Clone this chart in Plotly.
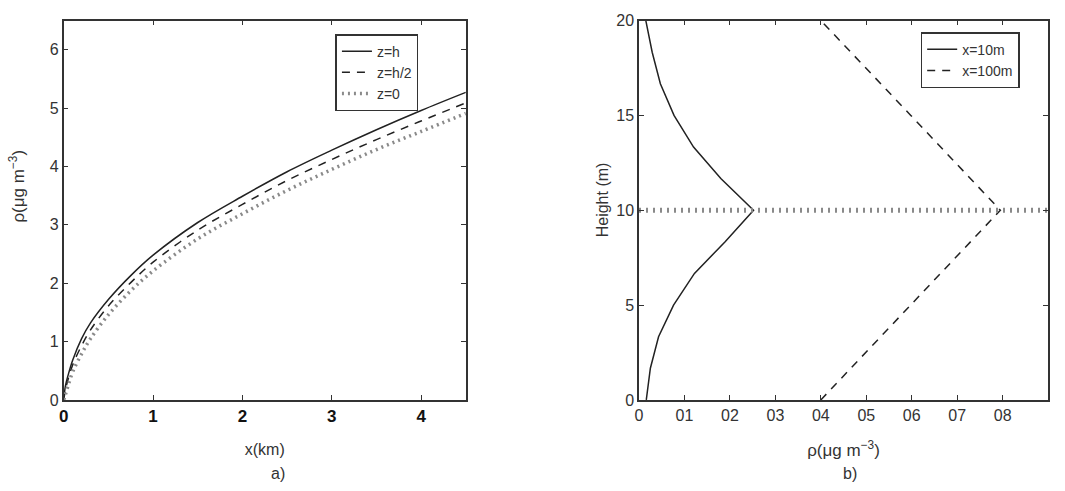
import plotly.graph_objects as go

# ---- panel a) data ----
dist_km = [0, 0.02, 0.05, 0.1, 0.2, 0.3, 0.5, 0.75, 1.0, 1.5, 2.0, 2.5, 3.0, 3.5, 4.0, 4.5]
rho_zh = [0, 0.25, 0.43, 0.68, 1.05, 1.32, 1.72, 2.13, 2.48, 3.04, 3.49, 3.91, 4.28, 4.63, 4.96, 5.27]
rho_zh2 = [0, 0.18, 0.36, 0.60, 0.93, 1.20, 1.61, 2.01, 2.36, 2.91, 3.35, 3.76, 4.12, 4.46, 4.78, 5.09]
rho_z0 = [0, 0.10, 0.25, 0.48, 0.79, 1.05, 1.46, 1.87, 2.21, 2.76, 3.19, 3.59, 3.95, 4.29, 4.60, 4.91]

# ---- panel b) data ----
height_m = [0, 1.67, 3.33, 5, 6.67, 8.33, 10, 11.67, 13.33, 15, 16.67, 18.33, 20]
rho_x10 = [0.016, 0.025, 0.043, 0.076, 0.122, 0.189, 0.252, 0.180, 0.120, 0.077, 0.047, 0.029, 0.015]
height_x100 = [0, 5, 10, 15, 20]
rho_x100 = [0.400, 0.598, 0.795, 0.598, 0.400]
hline_x = [0, 0.9]
hline_y = [10, 10]

xb_tickvals = [0, 0.1, 0.2, 0.3, 0.4, 0.5, 0.6, 0.7, 0.8]
xb_ticktext = ["0", "01", "02", "03", "04", "05", "06", "07", "08"]

FONT = "Liberation Sans, Arial, sans-serif"
TXT = "#333333"
LINE = "#222222"

fig = go.Figure()

fig.add_trace(go.Scatter(x=dist_km, y=rho_zh, mode="lines", name="z=h", line_shape="spline",
                         line=dict(color=LINE, width=1.5), xaxis="x", yaxis="y", legend="legend"))
fig.add_trace(go.Scatter(x=dist_km, y=rho_zh2, mode="lines", name="z=h/2", line_shape="spline",
                         line=dict(color=LINE, width=1.5, dash="8px,7px"), xaxis="x", yaxis="y", legend="legend"))
fig.add_trace(go.Scatter(x=dist_km, y=rho_z0, mode="lines", name="z=0", line_shape="spline",
                         line=dict(color="#8a8a8a", width=3.5, dash="2px,4px"), xaxis="x", yaxis="y", legend="legend"))

fig.add_trace(go.Scatter(x=rho_x10, y=height_m, mode="lines", name="x=10m",
                         line=dict(color=LINE, width=1.5), xaxis="x2", yaxis="y2", legend="legend2"))
fig.add_trace(go.Scatter(x=rho_x100, y=height_x100, mode="lines", name="x=100m",
                         line=dict(color=LINE, width=1.5, dash="8px,7px"), xaxis="x2", yaxis="y2", legend="legend2"))
fig.add_trace(go.Scatter(x=hline_x, y=hline_y, mode="lines", name="z=h", showlegend=False,
                         line=dict(color="#8a8a8a", width=5, dash="2px,5px"), xaxis="x2", yaxis="y2"))

axis_common = dict(showline=True, linecolor="#333333", linewidth=1.5, mirror="ticks",
                   ticks="inside", ticklen=5, tickcolor="#333333", showgrid=False, zeroline=False,
                   tickfont=dict(family=FONT, size=16, color=TXT))

ydom = [1 - 406 / 491, 1 - 13 / 491]

fig.update_layout(
    width=1065, height=491,
    margin=dict(l=0, r=0, t=0, b=0),
    paper_bgcolor="white", plot_bgcolor="white",
    font=dict(family=FONT, size=16, color=TXT),
    xaxis=dict(axis_common, domain=[59 / 1065, 463 / 1065], range=[0, 4.5], dtick=1,
               tickfont=dict(family=FONT, size=17, color="#111111", weight="bold"),
               title=dict(text="x(km)", font=dict(family=FONT, size=16, color=TXT), standoff=19),
               anchor="y"),
    yaxis=dict(axis_common, domain=ydom, range=[0, 6.5], dtick=1, anchor="x"),
    xaxis2=dict(axis_common, domain=[637 / 1065, 1048 / 1065], range=[0, 0.9],
                tickvals=xb_tickvals, ticktext=xb_ticktext,
                title=dict(text="ρ(μg m<sup>−3</sup>)", font=dict(family=FONT, size=17, color=TXT), standoff=21),
                anchor="y2"),
    yaxis2=dict(axis_common, domain=ydom, range=[0, 20], dtick=5, anchor="x2"),
    legend=dict(x=332 / 1065, y=1 - 27 / 491, xanchor="left", yanchor="top",
                bgcolor="white", bordercolor="#333333", borderwidth=1.5,
                font=dict(family=FONT, size=14, color=TXT), tracegroupgap=0),
    legend2=dict(x=920 / 1065, y=1 - 25 / 491, xanchor="left", yanchor="top",
                 bgcolor="white", bordercolor="#333333", borderwidth=1.5,
                 font=dict(family=FONT, size=14, color=TXT)),
    annotations=[
        dict(text="ρ(μg m<sup>−3</sup>)", x=12 / 1065, y=1 - 184 / 491, xref="paper", yref="paper",
             textangle=-90, showarrow=False, font=dict(family=FONT, size=17, color=TXT),
             xanchor="center", yanchor="middle"),
        dict(text="Height (m)", x=600 / 1065, y=1 - 199 / 491, xref="paper", yref="paper",
             textangle=-90, showarrow=False, font=dict(family=FONT, size=16, color=TXT),
             xanchor="center", yanchor="middle"),
        dict(text="a)", x=265 / 1065, y=1 - 482 / 491, xref="paper", yref="paper",
             showarrow=False, font=dict(family=FONT, size=16, color=TXT), yanchor="middle"),
        dict(text="b)", x=858 / 1065, y=1 - 482 / 491, xref="paper", yref="paper",
             showarrow=False, font=dict(family=FONT, size=16, color=TXT), yanchor="middle"),
    ],
)

fig.write_html("out.html")
